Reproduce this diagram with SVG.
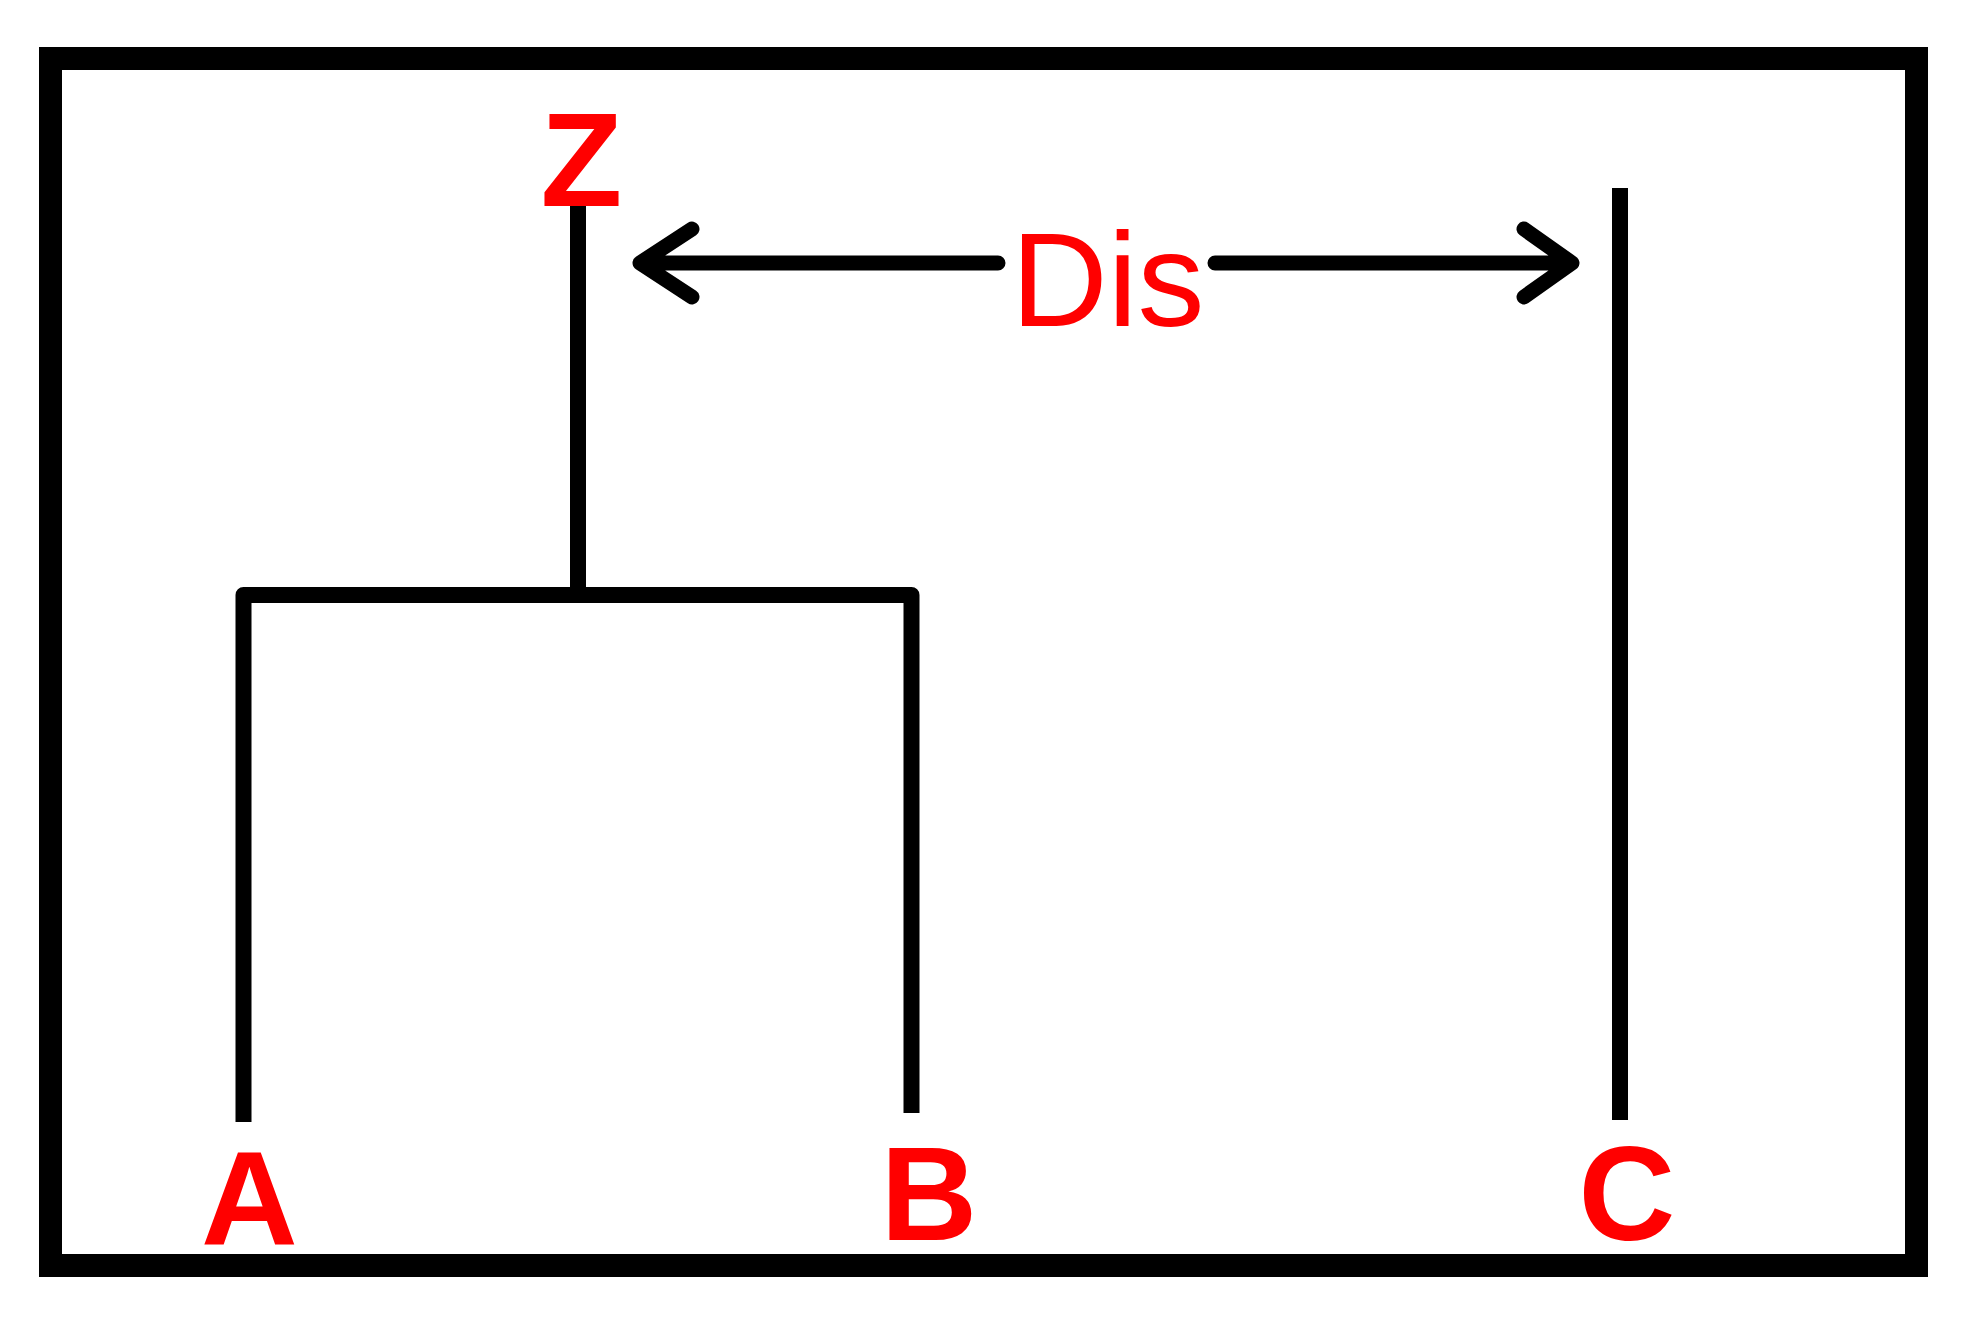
<svg xmlns="http://www.w3.org/2000/svg" width="1968" height="1324" viewBox="0 0 1968 1324">
<style>
.frame{fill:none;stroke:#000;stroke-width:23}
.ln{fill:none;stroke:#000;stroke-width:16;stroke-linejoin:round}
.ar{fill:none;stroke:#000;stroke-width:15;stroke-linecap:round;stroke-linejoin:round}
.lbl{font-family:"Liberation Sans",Arial,sans-serif;font-weight:bold;font-size:134px;fill:#FF0000;text-anchor:middle}
.dis{font-family:"Liberation Sans",Arial,sans-serif;font-size:134px;fill:#FF0000}
</style>
<rect width="1968" height="1324" fill="#fff"/>
<rect class="frame" x="50.5" y="58.5" width="1866" height="1207"/>
<g id="connectors">
<path class="ln" d="M243.5,1122 V595 H911.5 V1113"/>
<path class="ln" d="M578,206 V595"/>
<path class="ln" d="M1620,188 V1120"/>
<path class="ar" d="M640,263 H998 M692,229 L640,263 L692,297"/>
<path class="ar" d="M1215,263 H1572 M1524,229 L1572,263 L1524,297"/>
</g>
<g id="node-Z"><text class="lbl" x="581.5" y="206">Z</text></g>
<g id="node-A"><text class="lbl" x="249.5" y="1245">A</text></g>
<g id="node-B"><text class="lbl" x="929" y="1240">B</text></g>
<g id="node-C"><text class="lbl" x="1627" y="1240">C</text></g>
<g id="label-Dis"><text class="dis" x="1011" y="326">Dis</text></g>
</svg>
